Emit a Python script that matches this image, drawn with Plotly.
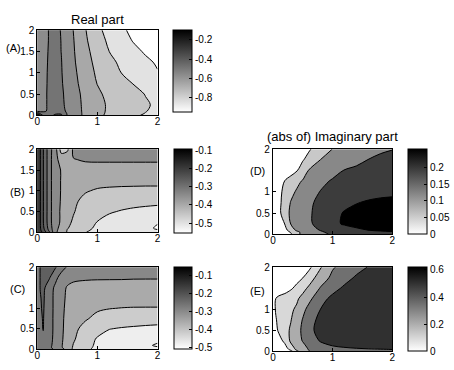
import plotly.graph_objects as go

# ---------------- data ----------------
x_grid = [0, 0.05, 0.1, 0.2, 0.3, 0.4, 0.5, 0.6, 0.8, 1.0, 1.2, 1.4, 1.6, 1.8, 2.0]
y_grid = [0, 0.05, 0.1, 0.25, 0.5, 0.75, 1.0, 1.25, 1.5, 1.75, 2.0]

# rows follow y_grid (bottom to top), columns follow x_grid
real_A = [
    [-0.10, -0.30, -0.42, -0.44, -0.38, -0.38, -0.505, -0.55, -0.62, -0.678, -0.72, -0.752, -0.784, -0.812, -0.83],
    [-0.30, -0.44, -0.47, -0.48, -0.42, -0.42, -0.51, -0.552, -0.62, -0.675, -0.716, -0.745, -0.775, -0.802, -0.82],
    [-0.52, -0.53, -0.515, -0.485, -0.462, -0.475, -0.512, -0.553, -0.621, -0.674, -0.714, -0.742, -0.77, -0.797, -0.818],
    [-0.55, -0.55, -0.52, -0.486, -0.467, -0.485, -0.516, -0.556, -0.623, -0.674, -0.713, -0.738, -0.764, -0.79, -0.815],
    [-0.56, -0.55, -0.52, -0.486, -0.467, -0.488, -0.52, -0.56, -0.629, -0.686, -0.721, -0.748, -0.775, -0.803, -0.82],
    [-0.56, -0.55, -0.522, -0.487, -0.467, -0.492, -0.529, -0.571, -0.642, -0.703, -0.737, -0.77, -0.803, -0.835, -0.86],
    [-0.56, -0.55, -0.523, -0.488, -0.468, -0.495, -0.535, -0.578, -0.654, -0.715, -0.757, -0.801, -0.832, -0.864, -0.895],
    [-0.56, -0.55, -0.525, -0.49, -0.47, -0.497, -0.541, -0.586, -0.665, -0.727, -0.778, -0.817, -0.85, -0.883, -0.91],
    [-0.56, -0.55, -0.525, -0.493, -0.472, -0.501, -0.545, -0.591, -0.675, -0.741, -0.801, -0.838, -0.877, -0.91, -0.925],
    [-0.56, -0.55, -0.53, -0.495, -0.473, -0.502, -0.55, -0.595, -0.686, -0.759, -0.818, -0.864, -0.905, -0.925, -0.94],
    [-0.56, -0.55, -0.53, -0.495, -0.475, -0.505, -0.552, -0.601, -0.695, -0.776, -0.837, -0.889, -0.915, -0.935, -0.95],
]

real_B = [
    [-0.12, -0.13, -0.16, -0.24, -0.34, -0.375, -0.403, -0.418, -0.449, -0.462, -0.474, -0.482, -0.487, -0.49, -0.49],
    [-0.12, -0.14, -0.18, -0.26, -0.338, -0.37, -0.402, -0.414, -0.444, -0.46, -0.472, -0.48, -0.486, -0.49, -0.497],
    [-0.12, -0.145, -0.19, -0.27, -0.336, -0.365, -0.398, -0.41, -0.44, -0.457, -0.47, -0.478, -0.485, -0.49, -0.505],
    [-0.12, -0.148, -0.198, -0.28, -0.335, -0.355, -0.39, -0.405, -0.433, -0.451, -0.465, -0.475, -0.482, -0.49, -0.497],
    [-0.12, -0.148, -0.198, -0.28, -0.335, -0.355, -0.382, -0.397, -0.42, -0.435, -0.446, -0.453, -0.458, -0.462, -0.465],
    [-0.12, -0.148, -0.198, -0.28, -0.335, -0.353, -0.378, -0.393, -0.41, -0.42, -0.427, -0.432, -0.436, -0.438, -0.44],
    [-0.12, -0.148, -0.198, -0.28, -0.335, -0.352, -0.375, -0.388, -0.397, -0.404, -0.407, -0.409, -0.41, -0.411, -0.411],
    [-0.12, -0.148, -0.198, -0.28, -0.335, -0.352, -0.368, -0.375, -0.383, -0.386, -0.387, -0.387, -0.387, -0.387, -0.387],
    [-0.12, -0.148, -0.198, -0.28, -0.335, -0.352, -0.362, -0.364, -0.365, -0.365, -0.365, -0.365, -0.365, -0.365, -0.365],
    [-0.12, -0.148, -0.198, -0.28, -0.335, -0.37, -0.365, -0.352, -0.346, -0.345, -0.345, -0.345, -0.345, -0.345, -0.345],
    [-0.12, -0.148, -0.198, -0.28, -0.33, -0.42, -0.41, -0.34, -0.333, -0.333, -0.334, -0.334, -0.335, -0.335, -0.335],
]

real_C = [
    [-0.28, -0.265, -0.262, -0.29, -0.305, -0.338, -0.36, -0.41, -0.44, -0.463, -0.476, -0.484, -0.488, -0.49, -0.49],
    [-0.278, -0.264, -0.26, -0.287, -0.322, -0.345, -0.372, -0.405, -0.433, -0.462, -0.476, -0.484, -0.489, -0.493, -0.497],
    [-0.277, -0.262, -0.258, -0.285, -0.32, -0.345, -0.375, -0.402, -0.43, -0.46, -0.474, -0.482, -0.488, -0.493, -0.505],
    [-0.276, -0.26, -0.255, -0.282, -0.315, -0.343, -0.37, -0.395, -0.425, -0.455, -0.47, -0.478, -0.483, -0.487, -0.49],
    [-0.275, -0.256, -0.249, -0.28, -0.313, -0.342, -0.365, -0.39, -0.413, -0.432, -0.449, -0.454, -0.457, -0.459, -0.46],
    [-0.274, -0.255, -0.248, -0.28, -0.313, -0.342, -0.362, -0.38, -0.396, -0.41, -0.418, -0.424, -0.428, -0.432, -0.435],
    [-0.273, -0.253, -0.246, -0.28, -0.312, -0.34, -0.36, -0.375, -0.388, -0.395, -0.399, -0.401, -0.402, -0.402, -0.402],
    [-0.272, -0.252, -0.244, -0.28, -0.312, -0.34, -0.356, -0.37, -0.377, -0.38, -0.382, -0.383, -0.384, -0.385, -0.385],
    [-0.27, -0.249, -0.24, -0.275, -0.31, -0.335, -0.354, -0.36, -0.363, -0.364, -0.365, -0.366, -0.366, -0.367, -0.367],
    [-0.27, -0.249, -0.237, -0.245, -0.285, -0.32, -0.335, -0.342, -0.345, -0.346, -0.346, -0.346, -0.347, -0.347, -0.347],
    [-0.27, -0.249, -0.235, -0.225, -0.245, -0.28, -0.305, -0.31, -0.312, -0.313, -0.313, -0.314, -0.314, -0.315, -0.315],
]

imag_D = [
    [0, 0, 0, 0.01, 0.04, 0.09, 0.11, 0.122, 0.14, 0.155, 0.165, 0.172, 0.177, 0.18, 0.182],
    [0, 0, 0.002, 0.018, 0.055, 0.09, 0.11, 0.125, 0.145, 0.16, 0.172, 0.181, 0.188, 0.193, 0.196],
    [0, 0, 0.005, 0.03, 0.08, 0.107, 0.124, 0.137, 0.152, 0.168, 0.182, 0.192, 0.2005, 0.205, 0.208],
    [0, 0.005, 0.02, 0.052, 0.102, 0.118, 0.132, 0.143, 0.165, 0.19, 0.205, 0.214, 0.22, 0.223, 0.225],
    [0, 0.015, 0.036, 0.08, 0.108, 0.122, 0.136, 0.145, 0.163, 0.188, 0.203, 0.212, 0.218, 0.222, 0.225],
    [0, 0.014, 0.035, 0.075, 0.102, 0.114, 0.128, 0.141, 0.162, 0.176, 0.19, 0.198, 0.204, 0.208, 0.211],
    [0, 0.012, 0.032, 0.068, 0.088, 0.105, 0.118, 0.13, 0.152, 0.165, 0.175, 0.182, 0.186, 0.189, 0.19],
    [0, 0.005, 0.02, 0.052, 0.07, 0.088, 0.104, 0.115, 0.138, 0.155, 0.166, 0.174, 0.18, 0.185, 0.188],
    [0, 0, 0.003, 0.015, 0.03, 0.047, 0.07, 0.102, 0.118, 0.134, 0.152, 0.16, 0.168, 0.175, 0.18],
    [0, 0, 0, 0.01, 0.022, 0.036, 0.047, 0.063, 0.101, 0.112, 0.124, 0.137, 0.151, 0.162, 0.172],
    [0, 0, 0, 0.005, 0.015, 0.025, 0.035, 0.045, 0.073, 0.101, 0.113, 0.124, 0.133, 0.141, 0.148],
]

imag_E = [
    [0, 0, 0.005, 0.02, 0.08, 0.21, 0.30, 0.355, 0.40, 0.425, 0.44, 0.45, 0.456, 0.46, 0.462],
    [0, 0.005, 0.015, 0.05, 0.16, 0.27, 0.32, 0.365, 0.41, 0.44, 0.458, 0.468, 0.474, 0.478, 0.482],
    [0, 0.01, 0.03, 0.08, 0.2, 0.28, 0.33, 0.375, 0.43, 0.465, 0.482, 0.492, 0.5, 0.504, 0.506],
    [0, 0.03, 0.07, 0.15, 0.26, 0.32, 0.365, 0.41, 0.49, 0.535, 0.56, 0.573, 0.58, 0.584, 0.586],
    [0.03, 0.09, 0.14, 0.2, 0.255, 0.32, 0.38, 0.44, 0.53, 0.572, 0.593, 0.603, 0.608, 0.611, 0.612],
    [0.05, 0.11, 0.16, 0.2, 0.235, 0.30, 0.366, 0.42, 0.52, 0.565, 0.588, 0.60, 0.607, 0.61, 0.612],
    [0.06, 0.135, 0.165, 0.195, 0.225, 0.255, 0.33, 0.39, 0.482, 0.54, 0.572, 0.59, 0.60, 0.606, 0.61],
    [0.05, 0.125, 0.16, 0.18, 0.20, 0.225, 0.275, 0.33, 0.44, 0.51, 0.545, 0.565, 0.58, 0.59, 0.595],
    [0, 0, 0.02, 0.06, 0.105, 0.15, 0.205, 0.258, 0.37, 0.442, 0.50, 0.53, 0.55, 0.565, 0.575],
    [0, 0, 0.005, 0.02, 0.045, 0.08, 0.118, 0.18, 0.30, 0.387, 0.441, 0.495, 0.52, 0.54, 0.555],
    [0, 0, 0, 0.012, 0.028, 0.045, 0.065, 0.09, 0.2325, 0.349, 0.399, 0.443, 0.485, 0.51, 0.53],
]

levels_A = [-0.9, -0.2, 0.1]
levels_B = [-0.5, -0.1, 0.05]
levels_C = [-0.5, -0.1, 0.05]
levels_D = [0.05, 0.2, 0.05]
levels_E = [0.12, 0.48, 0.12]

# colour bar ranges and tick labels
crange_A = [-0.95, -0.1]
crange_B = [-0.555, -0.095]
crange_C = [-0.51, -0.055]
crange_D = [0.0, 0.255]
crange_E = [0.0, 0.62]
cticks_A = [-0.8, -0.6, -0.4, -0.2]
cticks_B = [-0.5, -0.4, -0.3, -0.2, -0.1]
cticks_C = [-0.5, -0.4, -0.3, -0.2, -0.1]
cticks_D = [0, 0.05, 0.1, 0.15, 0.2]
cticks_E = [0, 0.2, 0.4, 0.6]
clabels_A = ["-0.8", "-0.6", "-0.4", "-0.2"]
clabels_B = ["-0.5", "-0.4", "-0.3", "-0.2", "-0.1"]
clabels_C = ["-0.5", "-0.4", "-0.3", "-0.2", "-0.1"]
clabels_D = ["0", "0.05", "0.1", "0.15", "0.2"]
clabels_E = ["0", "0.2", "0.4", "0.6"]

xticks = [0, 1, 2]
xtick_labels = ["0", "1", "2"]
yticks_full = [0, 0.5, 1, 1.5, 2]
ylabels_full = ["0", "0.5", "1", "1.5", "2"]
yticks_short = [0, 0.5, 1, 2]
ylabels_short = ["0", "0.5", "1", "2"]

panel_labels = ["(A)", "(B)", "(C)", "(D)", "(E)"]
titles = ["Real part", "(abs of) Imaginary part"]

# ---------------- styles / positions ----------------
W, H = 454, 370
FONT = "Liberation Sans, Arial, Helvetica, sans-serif"

def hexgray(v):
    return "rgb({0},{0},{0})".format(v)

band_A = [255, 226, 196, 168, 140, 116, 85, 53, 16]
band_B = [255, 230, 200, 170, 138, 119, 100, 80, 58, 36]
band_C = [255, 238, 204, 170, 136, 119, 96, 72, 48, 21]
band_D = [255, 200, 136, 60, 0]
band_E = [255, 216, 172, 112, 48]

boxes = {  # left, right, top, bottom in pixels
    "A": (35, 158, 25, 113),
    "B": (35, 158, 148, 234),
    "C": (35, 158, 270, 355),
    "D": (276, 398, 148, 236),
    "E": (276, 398, 270, 357),
}
cboxes = {
    "A": (174, 193, 25, 110),
    "B": (175, 193, 148, 235),
    "C": (175, 193, 270, 355),
    "D": (414, 433, 148, 236),
    "E": (414, 433, 270, 357),
}
label_pos = {"A": (11, 43), "B": (15, 192), "C": (15, 293), "D": (260, 171), "E": (260, 295)}
title_pos = [(97, 14), (337, 135)]

panels = [
    ("A", real_A, levels_A, band_A, crange_A, cticks_A, clabels_A, yticks_full, ylabels_full),
    ("B", real_B, levels_B, band_B, crange_B, cticks_B, clabels_B, yticks_full, ylabels_full),
    ("C", real_C, levels_C, band_C, crange_C, cticks_C, clabels_C, yticks_short, ylabels_short),
    ("D", imag_D, levels_D, band_D, crange_D, cticks_D, clabels_D, yticks_short, ylabels_short),
    ("E", imag_E, levels_E, band_E, crange_E, cticks_E, clabels_E, yticks_short, ylabels_short),
]

fig = go.Figure()
layout = {}
annotations = []

for i, (key, z, lv, bands, crng, ctv, ctt, ytv, ytt) in enumerate(panels):
    n = len(bands) - 1
    cscale = [[k / n, hexgray(bands[k])] for k in range(n + 1)]
    suffix = "" if i == 0 else str(i + 1)
    xa, ya = "x" + suffix, "y" + suffix
    fig.add_trace(go.Contour(
        x=x_grid, y=y_grid, z=z,
        autocontour=False,
        contours=dict(start=lv[0], end=lv[1], size=lv[2], coloring="fill", showlines=True),
        line=dict(color="black", width=1, smoothing=1),
        colorscale=cscale, showscale=False, hoverinfo="skip",
        xaxis=xa, yaxis=ya,
    ))
    cl, cr, ct, cb = cboxes[key]
    fig.add_trace(go.Scatter(
        x=[None], y=[None], mode="markers", showlegend=False, hoverinfo="skip",
        xaxis=xa, yaxis=ya,
        marker=dict(
            color=[crng[0]], cmin=crng[0], cmax=crng[1],
            colorscale=[[0, "white"], [1, "black"]], showscale=True,
            colorbar=dict(
                x=cl / W, xanchor="left", y=1 - ct / H, yanchor="top",
                len=(cb - ct) / H, lenmode="fraction",
                thickness=cr - cl, thicknessmode="pixels",
                xpad=0, ypad=0, outlinewidth=1, outlinecolor="black",
                tickvals=ctv, ticktext=ctt, ticks="inside", ticklen=3,
                tickcolor="black", tickfont=dict(size=10, color="black", family=FONT),
            ),
        ),
    ))
    l, r, t, b = boxes[key]
    axstyle = dict(showgrid=False, zeroline=False, showline=True, linecolor="black",
                   linewidth=1, mirror=True, ticks="inside", ticklen=3, tickcolor="black",
                   tickfont=dict(size=10, color="black", family=FONT))
    layout["xaxis" + suffix] = dict(domain=[l / W, r / W], range=[0, 2], anchor=ya,
                                    tickvals=xticks, ticktext=xtick_labels,
                                    ticklabelstandoff=-3, **axstyle)
    layout["yaxis" + suffix] = dict(domain=[1 - b / H, 1 - t / H], range=[0, 2], anchor=xa,
                                    tickvals=ytv, ticktext=ytt, **axstyle)
    lx, ly = label_pos[key]
    annotations.append(dict(text=panel_labels[i], x=lx / W, y=1 - ly / H, xref="paper", yref="paper",
                            showarrow=False, xanchor="center", yanchor="middle",
                            font=dict(size=11, color="black", family=FONT)))

for txt, (tx, ty) in zip(titles, title_pos):
    annotations.append(dict(text=txt, x=tx / W, y=1 - ty / H, xref="paper", yref="paper",
                            showarrow=False, xanchor="center", yanchor="middle",
                            font=dict(size=13, color="black", family=FONT)))

fig.update_layout(
    width=W, height=H, margin=dict(l=0, r=0, t=0, b=0),
    paper_bgcolor="white", plot_bgcolor="white", showlegend=False,
    annotations=annotations, **layout,
)

fig.write_html("out.html", config={"displayModeBar": False},
               post_script="document.body.style.margin='0px';")
